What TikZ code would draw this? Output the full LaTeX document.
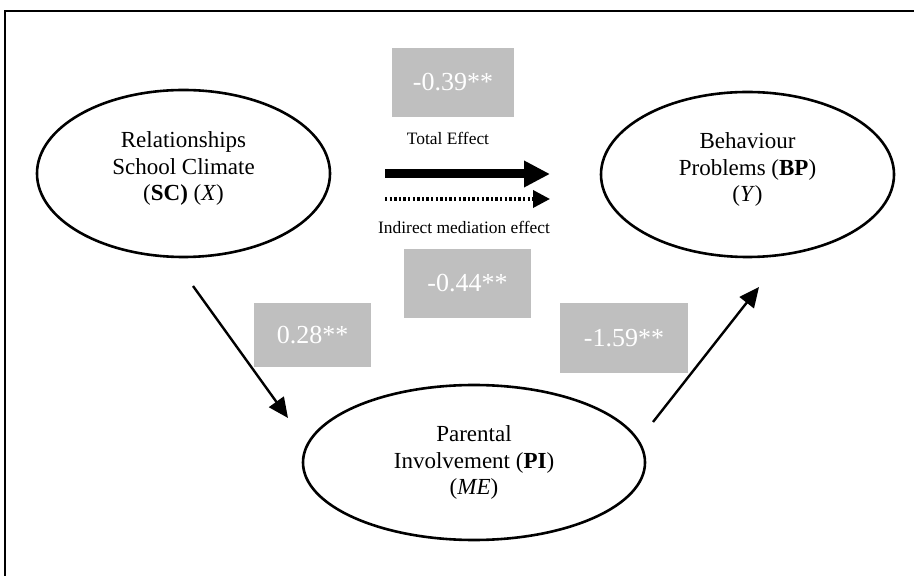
\documentclass[tikz,border=0pt]{standalone}
\usepackage{fontspec}
\setmainfont{Liberation Serif}
\usetikzlibrary{arrows.meta,shapes.geometric}
\definecolor{boxgray}{RGB}{191,191,191}

\begin{document}
\begin{tikzpicture}[x=0.5pt,y=-0.5pt,
    latent/.style={draw,ellipse,line width=1.3pt,inner sep=0pt,align=center,
      font=\fontsize{11.5}{13.3}\selectfont},
    coef/.style={fill=boxgray,text=white,inner sep=0pt,
      font=\fontsize{13}{15}\selectfont},
    effect/.style={line width=1.2pt,-{Triangle[length=10pt,width=9pt]}},
    legend/.style={font=\fontsize{8.7}{10}\selectfont}]
  \useasboundingbox (0,0) rectangle (914,576);
  % frame, cut off at the right and bottom
  \draw[line width=1.1pt] (5,576) -- (5,11) -- (914,11);

  \node[latent,minimum width=146.5pt,minimum height=83.5pt] (sc) at (183.5,173.5)
    {Relationships\\School Climate\\(\textbf{SC)} (\textit{X})\\[-6pt]};
  \node[latent,minimum width=146.5pt,minimum height=82.5pt] (bp) at (747.5,174.5)
    {Behaviour\\Problems (\textbf{BP})\\(\textit{Y})\\[-6pt]};
  \node[latent,minimum width=171pt,minimum height=77.5pt] (pi) at (474,462.5)
    {Parental\\Involvement (\textbf{PI})\\(\textit{ME})};

  \node[coef,minimum width=61pt,minimum height=34.5pt] (c39) at (453,82.5) {-0.39**};
  \node[coef,minimum width=63.5pt,minimum height=34.5pt] (c44) at (467.5,283.5) {-0.44**};
  \node[coef,minimum width=58.5pt,minimum height=32pt] (c28) at (312.5,335) {0.28**};
  \node[coef,minimum width=64pt,minimum height=35pt] (c59) at (624,338) {-1.59**};

  % legend arrows
  \node[legend] (total) at (448,138) {Total Effect};
  \node[legend] (indirect) at (464,227) {Indirect mediation effect};
  \coordinate (t0) at (385,174);
  \coordinate (t1) at (550,174);
  \coordinate (d0) at (385,199);
  \coordinate (d1) at (550,199);
  \draw[line width=4.5pt,-{Triangle[length=13pt,width=12.5pt]}] (t0) -- (t1);
  \draw[line width=1.8pt,dash pattern=on 1.2pt off 1.1pt,
    -{Triangle[length=8.5pt,width=8.5pt]}] (d0) -- (d1);

  % paths a and b
  \coordinate (a0) at (193,286);
  \coordinate (a1) at (288,418);
  \coordinate (b0) at (653,422);
  \coordinate (b1) at (759,287);
  \draw[effect] (a0) -- (a1);
  \draw[effect] (b0) -- (b1);
\end{tikzpicture}
\end{document}
